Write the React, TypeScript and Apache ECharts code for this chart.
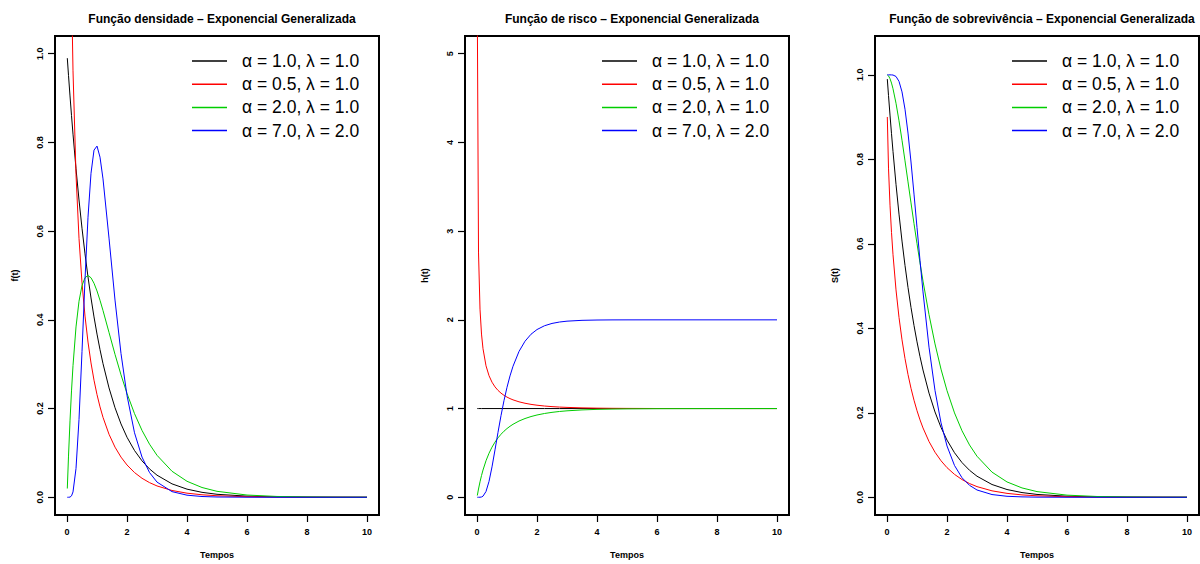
import React, { useEffect, useRef } from "react";
import * as echarts from "echarts";

// Time grid (Tempos)
const T = [0.01, 0.05, 0.1, 0.15, 0.2, 0.3, 0.4, 0.5, 0.6, 0.7, 0.8, 0.9, 1.0, 1.1, 1.2, 1.4, 1.6, 1.8, 2.0, 2.25, 2.5, 2.75, 3.0, 3.5, 4.0, 4.5, 5, 6, 7, 8, 9, 10];

// Density f(t)
const densBlack = [0.9900, 0.9512, 0.9048, 0.8607, 0.8187, 0.7408, 0.6703, 0.6065, 0.5488, 0.4966, 0.4493, 0.4066, 0.3679, 0.3329, 0.3012, 0.2466, 0.2019, 0.1653, 0.1353, 0.1054, 0.0821, 0.0639, 0.0498, 0.0302, 0.0183, 0.0111, 0.0067, 0.0025, 0.0009, 0.0003, 0.0001, 0.0000];
const densRed = [4.9626, 2.1537, 1.4666, 1.1531, 0.9615, 0.7276, 0.5837, 0.4835, 0.4085, 0.3499, 0.3028, 0.2639, 0.2314, 0.2038, 0.1802, 0.1421, 0.1130, 0.0905, 0.0728, 0.0557, 0.0428, 0.0330, 0.0255, 0.0153, 0.0092, 0.0056, 0.0034, 0.0012, 0.0005, 0.0002, 0.0001, 0.0000];
const densGreen = [0.0197, 0.0928, 0.1722, 0.2398, 0.2968, 0.3840, 0.4420, 0.4773, 0.4952, 0.5000, 0.4949, 0.4825, 0.4651, 0.4441, 0.4210, 0.3716, 0.3223, 0.2760, 0.2340, 0.1886, 0.1507, 0.1197, 0.0946, 0.0586, 0.0360, 0.0220, 0.0134, 0.0050, 0.0018, 0.0007, 0.0002, 0.0001];
const densBlue = [0.0000, 0.0000, 0.0004, 0.0031, 0.0120, 0.0648, 0.1754, 0.3286, 0.4910, 0.6314, 0.7305, 0.7827, 0.7918, 0.7668, 0.7178, 0.5843, 0.4446, 0.3240, 0.2295, 0.1454, 0.0906, 0.0558, 0.0342, 0.0127, 0.0047, 0.0017, 0.0006, 0.0001, 0.0000, 0.0000, 0.0000, 0.0000];

// Hazard h(t)
const hazBlack = [1, 1, 1, 1, 1, 1, 1, 1, 1, 1, 1, 1, 1, 1, 1, 1, 1, 1, 1, 1, 1, 1, 1, 1, 1, 1, 1, 1, 1, 1, 1, 1];
const hazRed = [5.5125, 2.7641, 2.1209, 1.8397, 1.6744, 1.4821, 1.3708, 1.2971, 1.2444, 1.2047, 1.1738, 1.1491, 1.1289, 1.1122, 1.0981, 1.0760, 1.0597, 1.0473, 1.0377, 1.0286, 1.0219, 1.0168, 1.0130, 1.0077, 1.0046, 1.0028, 1.0017, 1.0006, 1.0002, 1.0001, 1.0000, 1.0000];
const hazGreen = [0.0197, 0.0930, 0.1738, 0.2445, 0.3069, 0.4117, 0.4959, 0.5647, 0.6218, 0.6697, 0.7102, 0.7449, 0.7746, 0.8003, 0.8227, 0.8594, 0.8877, 0.9099, 0.9274, 0.9444, 0.9572, 0.9670, 0.9745, 0.9847, 0.9908, 0.9944, 0.9966, 0.9988, 0.9995, 0.9998, 0.9999, 1.0000];
const hazBlue = [0.0000, 0.0000, 0.0004, 0.0031, 0.0121, 0.0651, 0.1781, 0.3424, 0.5345, 0.7323, 0.9203, 1.0905, 1.2398, 1.3681, 1.4767, 1.6439, 1.7591, 1.8377, 1.8908, 1.9336, 1.9597, 1.9756, 1.9852, 1.9945, 1.9980, 1.9995, 1.9998, 2.0000, 2.0000, 2.0000, 2.0000, 2.0000];

// Survival S(t)
const survBlack = [0.9900, 0.9512, 0.9048, 0.8607, 0.8187, 0.7408, 0.6703, 0.6065, 0.5488, 0.4966, 0.4493, 0.4066, 0.3679, 0.3329, 0.3012, 0.2466, 0.2019, 0.1653, 0.1353, 0.1054, 0.0821, 0.0639, 0.0498, 0.0302, 0.0183, 0.0111, 0.0067, 0.0025, 0.0009, 0.0003, 0.0001, 0.0000];
const survRed = [0.9003, 0.7792, 0.6915, 0.6268, 0.5742, 0.4909, 0.4258, 0.3727, 0.3283, 0.2905, 0.2579, 0.2297, 0.2049, 0.1832, 0.1641, 0.1320, 0.1066, 0.0864, 0.0701, 0.0542, 0.0419, 0.0325, 0.0252, 0.0152, 0.0092, 0.0056, 0.0034, 0.0012, 0.0005, 0.0002, 0.0001, 0.0000];
const survGreen = [0.9999, 0.9976, 0.9909, 0.9806, 0.9671, 0.9328, 0.8913, 0.8452, 0.7964, 0.7466, 0.6968, 0.6478, 0.6004, 0.5549, 0.5117, 0.4324, 0.3630, 0.3033, 0.2524, 0.1997, 0.1574, 0.1238, 0.0971, 0.0595, 0.0363, 0.0221, 0.0134, 0.0050, 0.0018, 0.0007, 0.0002, 0.0001];
const survBlue = [1.0000, 1.0000, 1.0000, 0.9999, 0.9996, 0.9962, 0.9846, 0.9597, 0.9186, 0.8622, 0.7937, 0.7177, 0.6386, 0.5605, 0.4861, 0.3554, 0.2527, 0.1763, 0.1214, 0.0752, 0.0462, 0.0283, 0.0172, 0.0064, 0.0023, 0.0009, 0.0003, 0.0000, 0.0000, 0.0000, 0.0000, 0.0000];

const SERIES_NAMES = ["α = 1.0, λ = 1.0", "α = 0.5, λ = 1.0", "α = 2.0, λ = 1.0", "α = 7.0, λ = 2.0"];
const COLORS = ["#000000", "#FF0000", "#00CD00", "#0000FF"];
const TITLES = [
  "Função densidade – Exponencial Generalizada",
  "Função de risco – Exponencial Generalizada",
  "Função de sobrevivência – Exponencial Generalizada",
];
const Y_NAMES = ["f(t)", "h(t)", "S(t)"];
const X_NAME = "Tempos";
const X_TICKS = [0, 2, 4, 6, 8, 10];
const Y_TICKS = [
  [0, 0.2, 0.4, 0.6, 0.8, 1.0],
  [0, 1, 2, 3, 4, 5],
  [0, 0.2, 0.4, 0.6, 0.8, 1.0],
];
const Y_RANGES = [
  [-0.04, 1.04],
  [-0.2, 5.2],
  [-0.042, 1.092],
];
const Y_DECIMALS = [1, 0, 1];
const PANELS = [
  [densBlack, densRed, densGreen, densBlue],
  [hazBlack, hazRed, hazGreen, hazBlue],
  [survBlack, survRed, survGreen, survBlue],
];

const FONT = "'Liberation Sans', Arial, Helvetica, sans-serif";
const GRID_LEFTS = [55, 465, 875];
const GRID_TOP = 36;
const GRID_W = 324;
const GRID_H = 482;

export default function App() {
  const ref = useRef<HTMLDivElement>(null);
  useEffect(() => {
    if (!ref.current) return;
    const chart = echarts.init(ref.current, undefined, { renderer: "svg" });

    const grid = GRID_LEFTS.map((l) => ({
      left: l,
      top: GRID_TOP,
      width: GRID_W,
      height: GRID_H,
      show: true,
      borderColor: "#000",
      borderWidth: 2,
      backgroundColor: "transparent",
    }));

    const xAxis = GRID_LEFTS.map((_, i) => ({
      type: "value",
      gridIndex: i,
      min: -0.4,
      max: 10.4,
      name: X_NAME,
      nameLocation: "middle",
      nameGap: 35,
      nameTextStyle: { fontFamily: FONT, fontSize: 9, fontWeight: "bold", color: "#000" },
      splitLine: { show: false },
      axisLine: { show: false, onZero: false },
      axisTick: { show: true, length: 7, customValues: X_TICKS, lineStyle: { color: "#000", width: 1.2 } },
      axisLabel: {
        customValues: X_TICKS,
        margin: 12,
        fontFamily: FONT,
        fontSize: 9,
        fontWeight: "bold",
        color: "#000",
        formatter: (v: number) => String(v),
      },
    }));

    const yAxis = GRID_LEFTS.map((_, i) => ({
      type: "value",
      gridIndex: i,
      min: Y_RANGES[i][0],
      max: Y_RANGES[i][1],
      name: Y_NAMES[i],
      nameLocation: "middle",
      nameGap: 36,
      nameTextStyle: { fontFamily: FONT, fontSize: 9, fontWeight: "bold", color: "#000" },
      splitLine: { show: false },
      axisLine: { show: false, onZero: false },
      axisTick: { show: true, length: 7, customValues: Y_TICKS[i], lineStyle: { color: "#000", width: 1.2 } },
      axisLabel: {
        customValues: Y_TICKS[i],
        rotate: 90,
        margin: 11,
        fontFamily: FONT,
        fontSize: 9,
        fontWeight: "bold",
        color: "#000",
        formatter: (v: number) => v.toFixed(Y_DECIMALS[i]),
      },
    }));

    const series: any[] = [];
    PANELS.forEach((panel, pi) => {
      panel.forEach((vals, si) => {
        series.push({
          type: "line",
          name: SERIES_NAMES[si],
          xAxisIndex: pi,
          yAxisIndex: pi,
          data: T.map((t, k) => [t, vals[k]]),
          symbol: "none",
          showSymbol: false,
          clip: true,
          lineStyle: { color: COLORS[si], width: 1 },
          itemStyle: { color: COLORS[si] },
          emphasis: { disabled: true },
        });
      });
    });

    const title = TITLES.map((t, i) => ({
      text: t,
      left: GRID_LEFTS[i] + GRID_W / 2,
      top: 8,
      textAlign: "center",
      textStyle: { fontFamily: FONT, fontSize: 12, fontWeight: "bold", color: "#000" },
    }));

    const legend = GRID_LEFTS.map((l) => ({
      data: SERIES_NAMES,
      orient: "vertical",
      left: l + 137,
      top: 52,
      padding: 0,
      icon: "rect",
      itemWidth: 35,
      itemHeight: 1.5,
      itemGap: 5.2,
      selectedMode: false,
      textStyle: { fontFamily: FONT, fontSize: 17.5, color: "#000", lineHeight: 17, padding: [0, 0, 0, 10] },
    }));

    chart.setOption({
      animation: false,
      backgroundColor: "#fff",
      title,
      legend,
      grid,
      xAxis,
      yAxis,
      series,
    });
    return () => chart.dispose();
  }, []);
  return <div ref={ref} style={{ position: "fixed", left: 0, top: 0, width: 1200, height: 564 }} />;
}
